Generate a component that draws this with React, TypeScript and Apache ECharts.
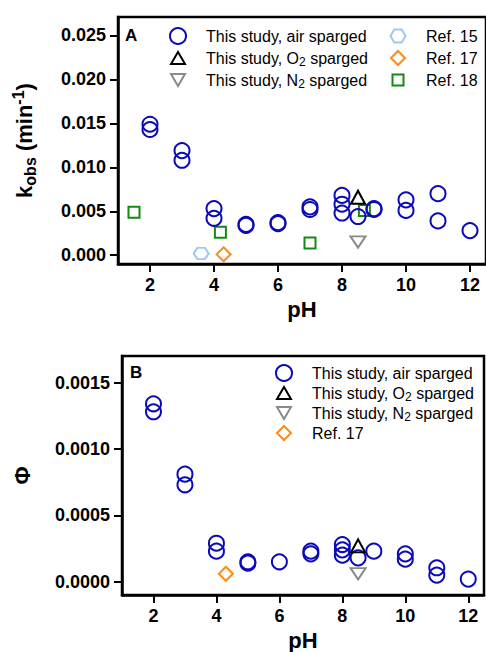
import React, { useEffect, useRef } from 'react';
import * as echarts from 'echarts';

// ---------- Data ----------
const xTicks = [2, 4, 6, 8, 10, 12];
const yTicksA = [0, 0.005, 0.01, 0.015, 0.02, 0.025];
const yTicksB = [0, 0.0005, 0.001, 0.0015];

// Panel A: k_obs (min^-1)
const airA_pH = [2, 2, 3, 3, 4, 4, 5, 5, 6, 6, 7, 7, 8, 8, 8, 8.5, 9, 9, 10, 10, 11, 11, 12];
const airA_k = [0.0149, 0.0143, 0.0119, 0.0108, 0.0053, 0.0042, 0.0035, 0.0034, 0.0037, 0.0036, 0.0055, 0.0052, 0.0068, 0.0058, 0.0048, 0.0044, 0.0053, 0.0052, 0.0063, 0.0051, 0.0070, 0.0039, 0.0028];
const o2A_pH = [8.5];
const o2A_k = [0.0066];
const n2A_pH = [8.5];
const n2A_k = [0.0015];
const ref15_pH = [3.6];
const ref15_k = [0.0002];
const ref17A_pH = [4.3];
const ref17A_k = [0.0001];
const ref18_pH = [1.5, 4.2, 7.0, 8.7];
const ref18_k = [0.0049, 0.0026, 0.0014, 0.0051];

// Panel B: quantum yield Φ
const airB_pH = [2, 2, 3, 3, 4, 4, 5, 5, 6, 7, 7, 8, 8, 8, 8.5, 9, 10, 10, 11, 11, 12];
const airB_phi = [0.00134, 0.00128, 0.00081, 0.00073, 0.00029, 0.00023, 0.00015, 0.00014, 0.00015, 0.00023, 0.00021, 0.00028, 0.00024, 0.00020, 0.00018, 0.00023, 0.00021, 0.00017, 0.000105, 0.00005, 0.00002];
const o2B_pH = [8.5];
const o2B_phi = [0.00027];
const n2B_pH = [8.5];
const n2B_phi = [0.00006];
const ref17B_pH = [4.3];
const ref17B_phi = [0.00006];

// ---------- Styles ----------
const AIR = 'This study, air sparged';
const O2 = 'This study, O2 sparged';
const N2 = 'This study, N2 sparged';
const R15 = 'Ref. 15';
const R17 = 'Ref. 17';
const R18 = 'Ref. 18';

const BLUE = '#0a0ab8';
const BLACK = '#000000';
const GRAY = '#8a8a8a';
const LIGHTBLUE = '#9ec8f2';
const ORANGE = '#ff8a14';
const GREEN = '#138a13';

const HEX = 'path://M-5,0 L-2.5,-4.33 L2.5,-4.33 L5,0 L2.5,4.33 L-2.5,4.33 Z';
const TRI_DOWN = 'path://M0,0 L10,0 L5,8.66 Z';
const FONT = '"Liberation Sans", Arial, sans-serif';

// legend icons (16x16 frame keeps each marker at its own size)
const FRAME = 'M0,0 M16,16 ';
const ICONS: Record<string, string> = {
  [AIR]: 'circle',
  [O2]: 'path://' + FRAME + 'M8,2 L15,14 L1,14 Z',
  [N2]: 'path://' + FRAME + 'M1,2 L15,2 L8,14 Z',
  [R15]: 'path://' + FRAME + 'M0.5,8 L4.3,1.5 L11.7,1.5 L15.5,8 L11.7,14.5 L4.3,14.5 Z',
  [R17]: 'path://' + FRAME + 'M8,1 L15,8 L8,15 L1,8 Z',
  [R18]: 'path://' + FRAME + 'M2.5,2.5 L13.5,2.5 L13.5,13.5 L2.5,13.5 Z',
};

const zip = (xs: number[], ys: number[]) => xs.map((x, i) => [x, ys[i]]);

function sc(name: string, xs: number[], ys: number[], idx: number, symbol: string, size: any, color: string, z: number) {
  return {
    type: 'scatter',
    name,
    xAxisIndex: idx,
    yAxisIndex: idx,
    data: zip(xs, ys),
    symbol,
    symbolSize: size,
    symbolKeepAspect: true,
    z,
    itemStyle: { color: 'rgba(0,0,0,0)', borderColor: color, borderWidth: 2, opacity: 1 },
    emphasis: { disabled: true },
  };
}

const legendRich = {
  sub: { fontSize: 12, lineHeight: 12, verticalAlign: 'bottom', fontFamily: FONT, color: '#000' },
};
const legendFmt = (n: string) => n.replace('O2', 'O{sub|2}').replace('N2', 'N{sub|2}');

function legend(names: string[], left: number, top: number, gap: number) {
  return {
    orient: 'vertical',
    left,
    top,
    data: names.map((n) => ({ name: n, icon: ICONS[n] })),
    itemWidth: 46,
    itemHeight: 16,
    itemGap: gap,
    padding: 0,
    symbolKeepAspect: true,
    selectedMode: false,
    formatter: legendFmt,
    textStyle: { fontSize: 16, fontFamily: FONT, color: '#000', lineHeight: 20, rich: legendRich },
  };
}

function xAxis(idx: number) {
  return {
    type: 'value',
    gridIndex: idx,
    min: 1,
    max: 12.5,
    name: 'pH',
    nameLocation: 'middle',
    nameGap: 34,
    nameTextStyle: { fontSize: 22, fontWeight: 'bold', fontFamily: FONT, color: '#000' },
    axisLine: { show: true, onZero: false, lineStyle: { color: '#000', width: 2.5 } },
    axisTick: { show: true, inside: false, length: 8, customValues: xTicks, lineStyle: { color: '#000', width: 2 } },
    axisLabel: { customValues: xTicks, margin: 12, fontSize: 18, fontWeight: 'bold', fontFamily: FONT, color: '#000' },
    splitLine: { show: false },
  };
}

function yAxis(idx: number, min: number, max: number, ticks: number[], digits: number, name: string, gap: number, rich: any) {
  return {
    type: 'value',
    gridIndex: idx,
    min,
    max,
    name,
    nameLocation: 'middle',
    nameRotate: 90,
    nameGap: gap,
    nameTextStyle: { fontSize: 22, fontWeight: 'bold', fontFamily: FONT, color: '#000', lineHeight: 28, rich },
    axisLine: { show: true, onZero: false, lineStyle: { color: '#000', width: 2.5 } },
    axisTick: { show: true, inside: false, length: 8, customValues: ticks, lineStyle: { color: '#000', width: 2 } },
    axisLabel: {
      customValues: ticks,
      margin: 12,
      fontSize: 18,
      fontWeight: 'bold',
      fontFamily: FONT,
      color: '#000',
      formatter: (v: number) => v.toFixed(digits),
    },
    splitLine: { show: false },
  };
}

const kRich = {
  sub: { fontSize: 16, lineHeight: 16, fontWeight: 'bold', verticalAlign: 'bottom', fontFamily: FONT, color: '#000' },
  sup: { fontSize: 16, lineHeight: 16, fontWeight: 'bold', verticalAlign: 'top', fontFamily: FONT, color: '#000' },
};

export default function App() {
  const ref = useRef<HTMLDivElement>(null);
  useEffect(() => {
    if (!ref.current) return;
    const chart = echarts.init(ref.current, undefined, { renderer: 'svg' });
    const option: any = {
      animation: false,
      backgroundColor: '#fff',
      textStyle: { fontFamily: FONT },
      grid: [
        { left: 118, top: 17, width: 369, height: 247, show: true, borderColor: '#000', borderWidth: 2.5, containLabel: false },
        { left: 122, top: 356, width: 362, height: 240, show: true, borderColor: '#000', borderWidth: 2.5, containLabel: false },
      ],
      xAxis: [xAxis(0), xAxis(1)],
      yAxis: [
        yAxis(0, -0.001, 0.0271, yTicksA, 3, 'k{sub|obs} (min{sup|-1})', 80, kRich),
        yAxis(1, -0.0001, 0.0017, yTicksB, 4, 'Φ', 86, {}),
      ],
      legend: [
        legend([AIR, O2, N2], 169, 26, 2),
        legend([R15, R17, R18], 389, 26, 2),
        legend([AIR, O2, N2, R17], 275, 363, 0),
      ],
      graphic: [
        { type: 'text', left: 125, top: 27, style: { text: 'A', font: `bold 17px ${FONT}`, fill: '#000' } },
        { type: 'text', left: 130, top: 364, style: { text: 'B', font: `bold 17px ${FONT}`, fill: '#000' } },
      ],
      series: [
        sc(R15, ref15_pH, ref15_k, 0, HEX, [15, 13], LIGHTBLUE, 2),
        sc(R17, ref17A_pH, ref17A_k, 0, 'diamond', 14, ORANGE, 2),
        sc(R18, ref18_pH, ref18_k, 0, 'rect', 11, GREEN, 2),
        sc(AIR, airA_pH, airA_k, 0, 'circle', 15, BLUE, 3),
        sc(O2, o2A_pH, o2A_k, 0, 'triangle', [14, 13], BLACK, 4),
        sc(N2, n2A_pH, n2A_k, 0, TRI_DOWN, [15, 13], GRAY, 4),
        sc(R17, ref17B_pH, ref17B_phi, 1, 'diamond', 14, ORANGE, 2),
        sc(AIR, airB_pH, airB_phi, 1, 'circle', 15, BLUE, 3),
        sc(O2, o2B_pH, o2B_phi, 1, 'triangle', [14, 13], BLACK, 4),
        sc(N2, n2B_pH, n2B_phi, 1, TRI_DOWN, [15, 13], GRAY, 4),
      ],
    };
    chart.setOption(option);
    return () => chart.dispose();
  }, []);
  return <div ref={ref} style={{ position: 'absolute', left: 0, top: 0, width: 486, height: 652 }} />;
}
